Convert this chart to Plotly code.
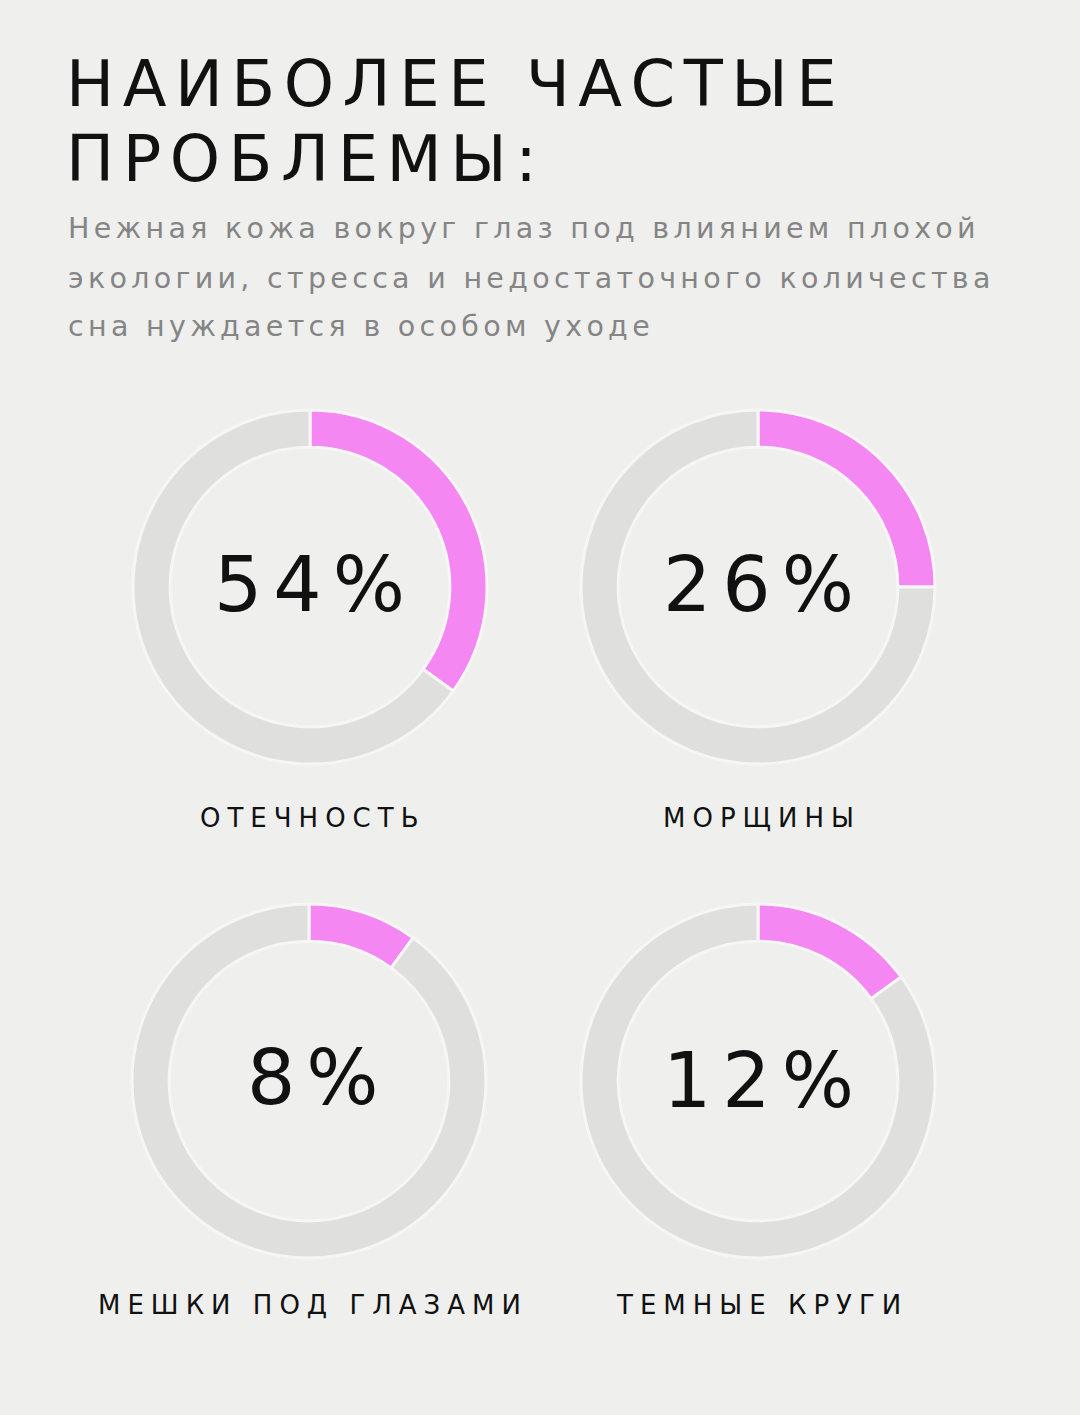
import plotly.graph_objects as go

# ---- data ----
categories = ["ОТЕЧНОСТЬ", "МОРЩИНЫ", "МЕШКИ ПОД ГЛАЗАМИ", "ТЕМНЫЕ КРУГИ"]
label_pct = [54, 26, 8, 12]          # numbers printed in the centre
arc_share = [35, 25, 10, 15]         # share of the ring drawn in pink
title_lines = ["НАИБОЛЕЕ ЧАСТЫЕ", "ПРОБЛЕМЫ:"]
subtitle_lines = [
    "Нежная кожа вокруг глаз под влиянием плохой",
    "экологии, стресса и недостаточного количества",
    "сна нуждается в особом уходе",
]

# ---- layout / style ----
W, H = 1080, 1415
BG = "#efefed"
PINK = "#f487f1"
GREY = "#dfe0de"
FONT = "DejaVu Sans"

def px(x):
    return x / W

def py(y):
    return 1 - y / H

centers = [(310, 587), (758, 587), (309, 1081), (758, 1081)]
R = 177
label_pos = [(309, 584), (758, 584), (313, 1077), (758, 1080)]
cat_pos = [(309, 818), (758, 818), (309, 1305), (758, 1305)]

fig = go.Figure()
for i, (cx, cy) in enumerate(centers):
    fig.add_trace(go.Pie(
        values=[arc_share[i], 100 - arc_share[i]],
        labels=["problem", "rest"],
        sort=False,
        direction="clockwise",
        rotation=0,
        hole=0.79,
        textinfo="none",
        hoverinfo="skip",
        showlegend=False,
        marker=dict(colors=[PINK, GREY], line=dict(color="#f7f5f6", width=3)),
        domain=dict(x=[px(cx - R), px(cx + R)], y=[py(cy + R), py(cy - R)]),
    ))

ann = []
TS, SS, PS, CS = 8.5, 4.3, 11, 7
for txt, yc in zip(title_lines, [84, 159]):
    ann.append(dict(text=f'<span style="letter-spacing:{TS}px">{txt}</span>', x=px(64), y=py(yc),
                    xanchor="left", yanchor="middle", showarrow=False,
                    font=dict(family=FONT, size=64, color="#111111")))
for txt, yc in zip(subtitle_lines, [229, 278, 326]):
    ann.append(dict(text=f'<span style="letter-spacing:{SS}px">{txt}</span>', x=px(66), y=py(yc),
                    xanchor="left", yanchor="middle", showarrow=False,
                    font=dict(family=FONT, size=28.5, color="#858585")))
for i in range(4):
    lx, ly = label_pos[i]
    ann.append(dict(text=f'<span style="letter-spacing:{PS}px">{label_pct[i]}%</span>', x=px(lx + PS / 2), y=py(ly),
                    xanchor="center", yanchor="middle", showarrow=False,
                    font=dict(family=FONT, size=76, color="#111111")))
    cx2, cy2 = cat_pos[i]
    ann.append(dict(text=f'<span style="letter-spacing:{CS}px">{categories[i]}</span>', x=px(cx2 + CS / 2), y=py(cy2),
                    xanchor="center", yanchor="middle", showarrow=False,
                    font=dict(family=FONT, size=26, color="#111111")))

fig.update_layout(
    width=W, height=H,
    margin=dict(l=0, r=0, t=0, b=0),
    paper_bgcolor=BG, plot_bgcolor=BG,
    annotations=ann,
)
fig.write_html("out.html",
               config={"displayModeBar": False},
               post_script="document.body.style.margin='0';document.body.style.background='%s';" % BG)
